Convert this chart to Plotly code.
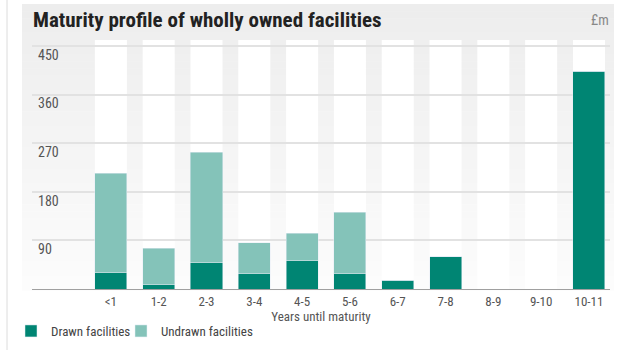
import plotly.graph_objects as go

categories = ["<1", "1-2", "2-3", "3-4", "4-5", "5-6", "6-7", "7-8", "8-9", "9-10", "10-11"]
drawn = [30, 8, 49, 28, 52, 28, 16, 60, 0, 0, 403]
undrawn = [184, 67, 204, 58, 51, 114, 0, 0, 0, 0, 0]
y_ticks = [0, 90, 180, 270, 360, 450]

DRAWN_COLOR = "#008573"
UNDRAWN_COLOR = "#84c3b9"
FONT = "Roboto Condensed, Liberation Sans Narrow, Arial Narrow, Roboto, sans-serif"

W, H = 620, 350
L, R, T, B = 32, 10, 40, 61
PW, PH = W - L - R, H - T - B


def px_x(x):
    return (x - L) / PW


def px_y(y):
    return (H - B - y) / PH


def mix(c0, c1, t):
    return "rgb({},{},{})".format(*[round(a + (b - a) * t) for a, b in zip(c0, c1)])


shapes = []
# grey panel fading to white towards the baseline
n = 40
top, bottom = 4, 290
for i in range(n):
    y0 = top + (bottom - top) * i / n
    y1 = top + (bottom - top) * (i + 1) / n + 0.5
    shapes.append(dict(
        type="rect", xref="paper", yref="paper", layer="below",
        x0=px_x(22), x1=px_x(614), y0=px_y(y1), y1=px_y(y0),
        fillcolor=mix((237, 237, 237), (252, 252, 252), i / (n - 1)), line_width=0,
    ))
# thin rule at far left
shapes.append(dict(type="line", xref="paper", yref="paper", x0=px_x(7), x1=px_x(7),
                   y0=px_y(H), y1=px_y(0), line=dict(color="#dcdcdc", width=1), layer="below"))
# white column behind every category
bw = 0.67
for i, _ in enumerate(categories):
    shapes.append(dict(type="rect", xref="x", yref="paper", layer="below",
                       x0=i - bw / 2, x1=i + bw / 2, y0=0, y1=1,
                       fillcolor="white", line_width=0))

fig = go.Figure()
fig.add_bar(x=categories, y=drawn, name="Drawn facilities", marker_color=DRAWN_COLOR,
            width=bw, legend="legend", showlegend=True)
fig.add_bar(x=categories, y=undrawn, name="Undrawn facilities", marker_color=UNDRAWN_COLOR,
            width=bw, legend="legend2", showlegend=True)

legend_style = dict(
    orientation="h", xanchor="left", y=px_y(331), yanchor="middle",
    font=dict(size=13, color="#444444"), bgcolor="rgba(0,0,0,0)",
)

fig.update_layout(
    width=W, height=H,
    barmode="stack",
    showlegend=True,
    paper_bgcolor="white",
    plot_bgcolor="rgba(0,0,0,0)",
    margin=dict(l=L, r=R, t=T, b=B, autoexpand=False),
    font=dict(family=FONT, size=13, color="#555555"),
    title=dict(
        text="<b>Maturity profile of wholly owned facilities</b>",
        x=33 / W, xanchor="left", xref="container",
        y=1 - 20 / H, yanchor="middle", yref="container",
        pad=dict(l=0, r=0, t=0, b=0),
        font=dict(family=FONT, size=21, color="#222222"),
    ),
    xaxis=dict(
        type="category", categoryorder="array", categoryarray=categories,
        range=[-1.65, 10.44], showgrid=False, showline=True, linecolor="#a0a0a0",
        ticks="", tickfont=dict(size=13, color="#555555"),
        title=dict(text="Years until maturity", standoff=0, font=dict(size=13, color="#555555")),
    ),
    yaxis=dict(
        range=[0, 461], tickvals=y_ticks, ticktext=["", "90", "180", "270", "360", "450"],
        showgrid=True, gridcolor="#e2e2e2", gridwidth=1.5, zeroline=False,
        ticklabelposition="inside", ticklabelshift=9, ticklabelstandoff=3,
        ticklabeloverflow="allow",
        tickfont=dict(size=14, color="#555555"),
    ),
    legend=dict(x=px_x(11), **legend_style),
    legend2=dict(x=px_x(121), **legend_style),
    shapes=shapes,
    annotations=[dict(
        text="£m", xref="paper", yref="paper", x=px_x(611), y=px_y(20),
        xanchor="right", yanchor="middle", showarrow=False,
        font=dict(size=14, color="#888888"),
    )],
)

fig.write_html("out.html", config={"displayModeBar": False},
               post_script="document.body.style.margin = '0';")
